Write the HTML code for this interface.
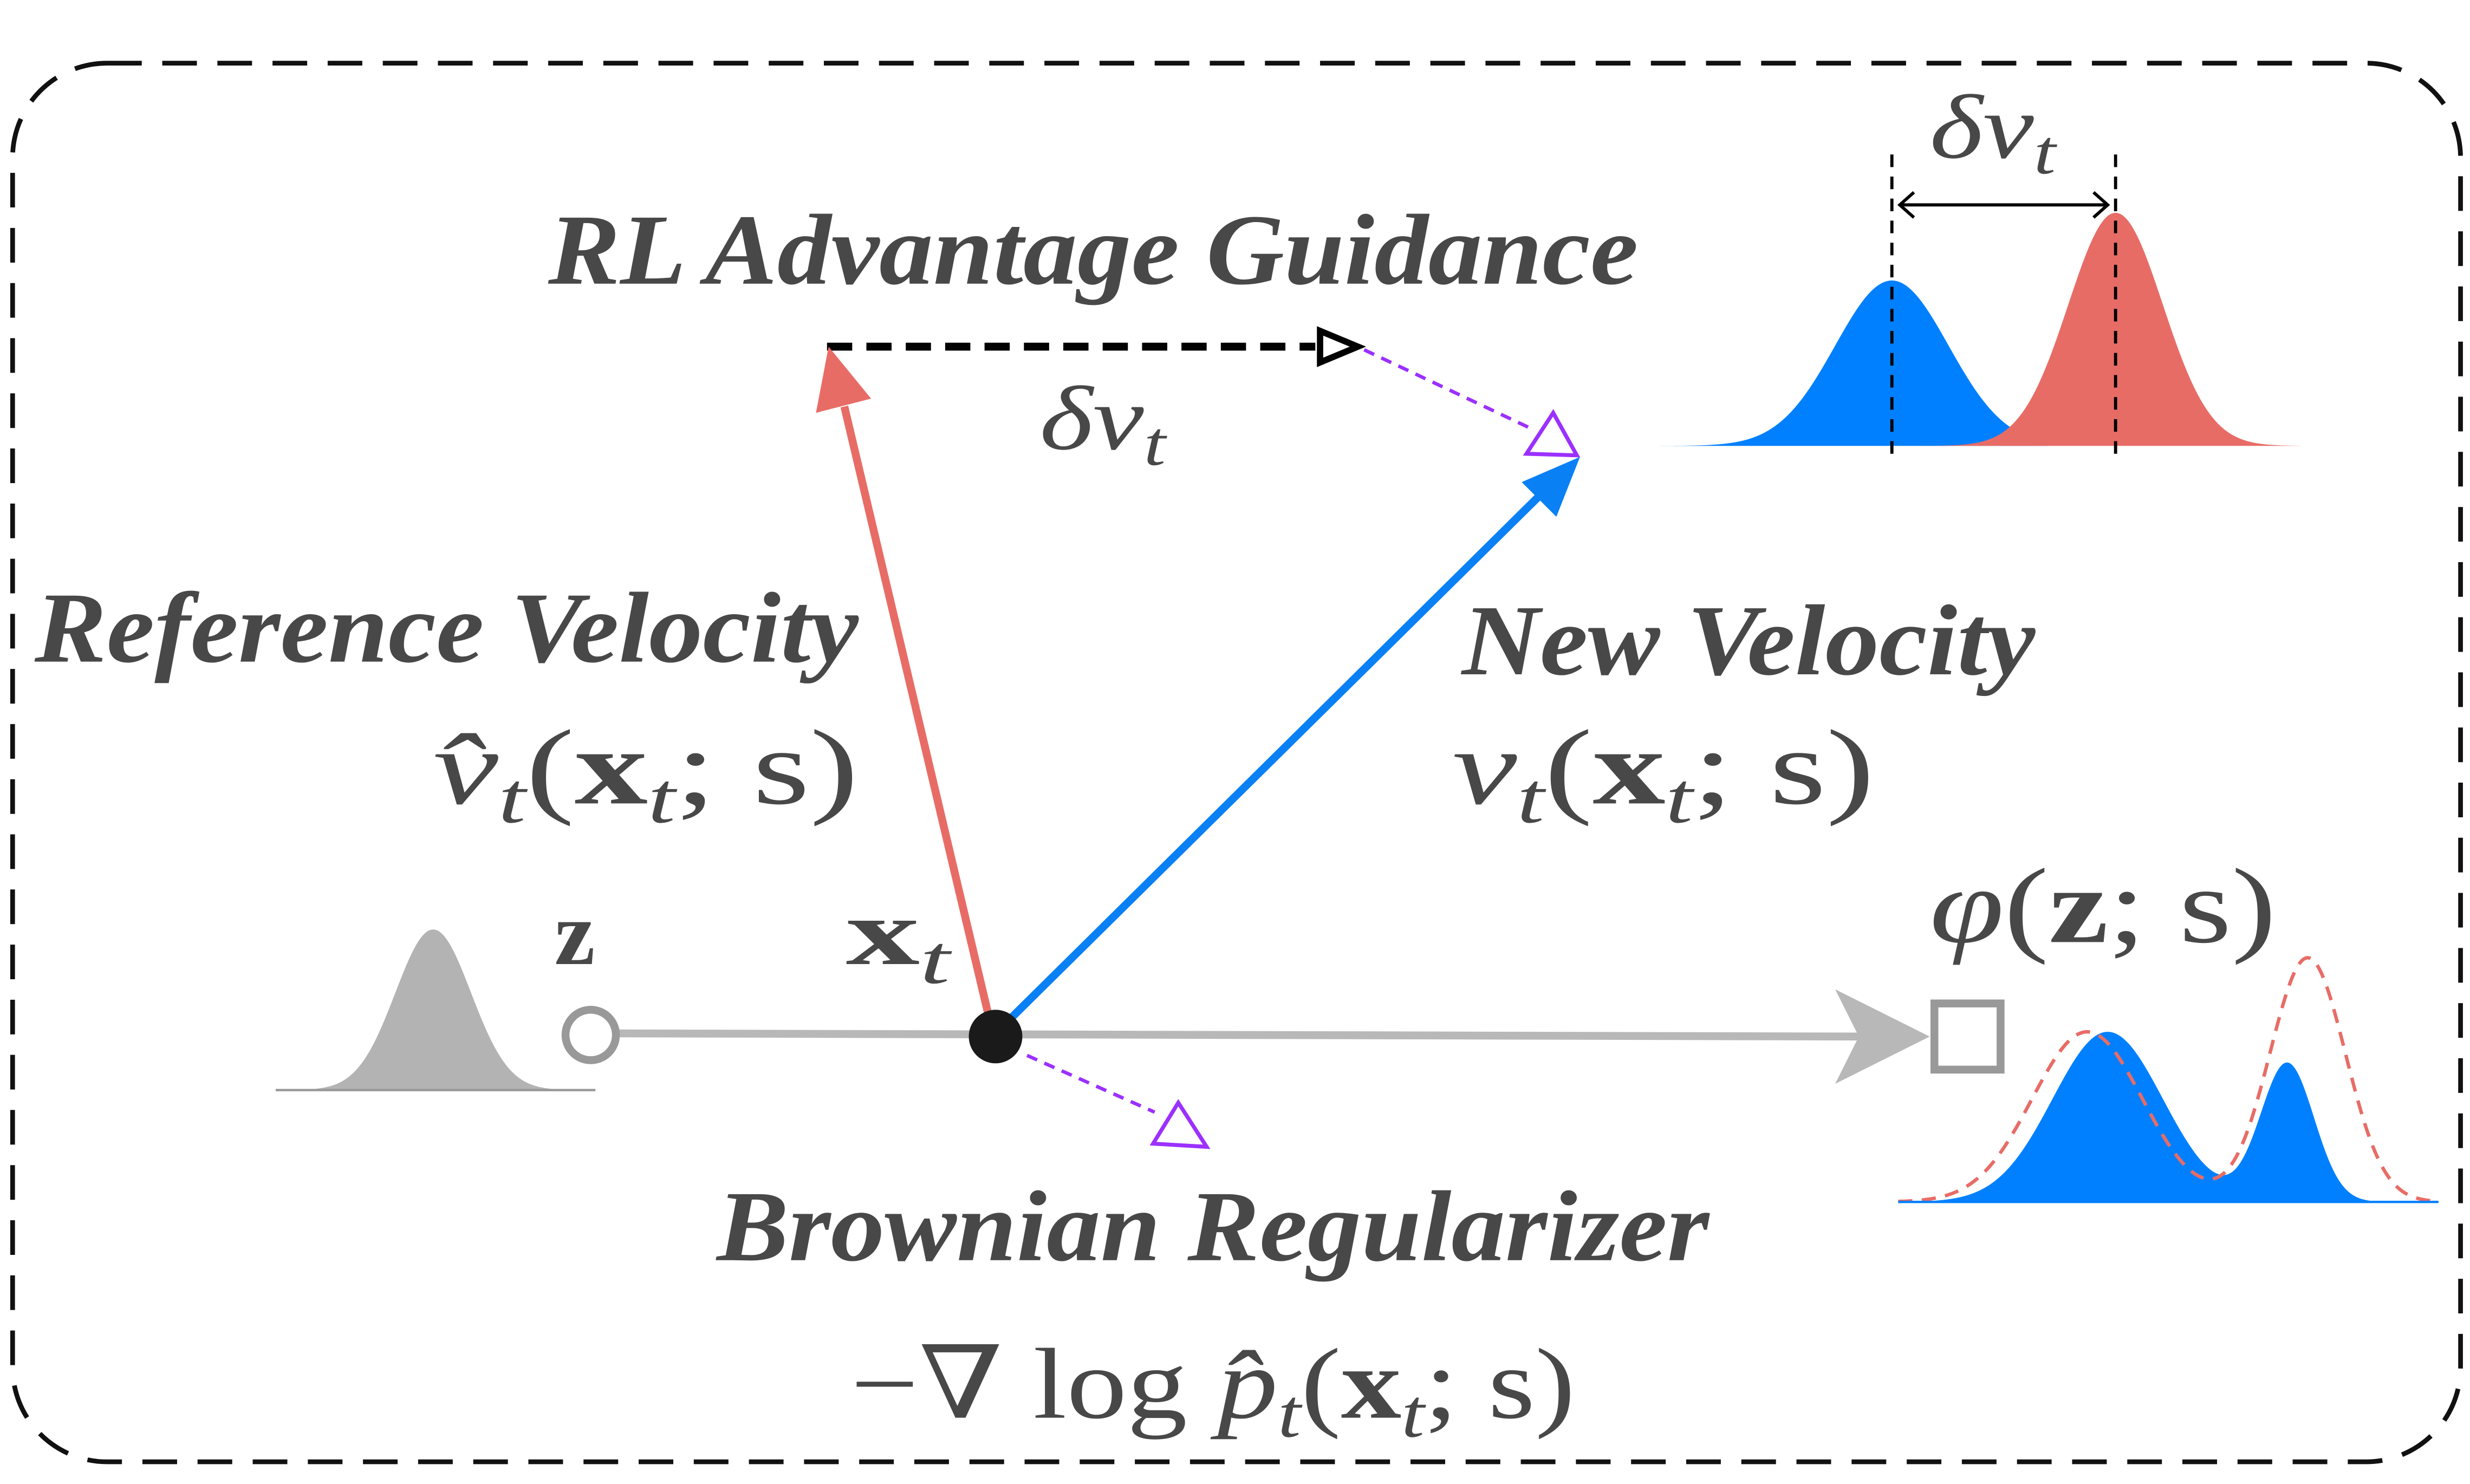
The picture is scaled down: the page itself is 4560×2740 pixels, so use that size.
<!DOCTYPE html>
<html><head><meta charset="utf-8"><style>
html,body{margin:0;padding:0;background:#fff}
svg{display:block}
.t{font-family:"Liberation Serif",serif;font-weight:bold;font-style:italic;fill:#484848}
.m{font-family:"Liberation Serif","DejaVu Serif",serif;fill:#484848}
</style></head><body>
<svg id="s" width="4560" height="2740" viewBox="0 0 1568 942" xmlns="http://www.w3.org/2000/svg">
<rect x="8" y="40" width="1554" height="888" rx="60" fill="none" stroke="#111" stroke-width="3" stroke-dasharray="22,13"/>
<path id="gb" fill="#0080FF"/>
<path id="gr" fill="#E86C66"/>
<line x1="1201" y1="98" x2="1201" y2="292" stroke="#000" stroke-width="2" stroke-dasharray="8,6"/>
<line x1="1343" y1="98" x2="1343" y2="292" stroke="#000" stroke-width="2" stroke-dasharray="8,6"/>
<line x1="1206" y1="130" x2="1338" y2="130" stroke="#000" stroke-width="2"/>
<polyline points="1215,122 1206,130 1215,138" fill="none" stroke="#000" stroke-width="2"/>
<polyline points="1329,122 1338,130 1329,138" fill="none" stroke="#000" stroke-width="2"/>
<text class="m" x="1225" y="100" font-size="58" font-style="italic" textLength="80" lengthAdjust="spacingAndGlyphs">δv<tspan font-size="40" dy="10">t</tspan></text>
<text class="t" x="348" y="180" font-size="64" textLength="692" lengthAdjust="spacingAndGlyphs">RL Advantage Guidance</text>
<line x1="525" y1="220" x2="835" y2="220" stroke="#000" stroke-width="5" stroke-dasharray="16,9"/>
<polygon points="838,210 862,220 838,230" fill="#fff" stroke="#000" stroke-width="4"/>
<line x1="866" y1="222" x2="972" y2="272" stroke="#9B30FF" stroke-width="2.2" stroke-dasharray="7,5"/>
<polygon points="986,262 1001,289 969,288" fill="#fff" stroke="#9B30FF" stroke-width="2.5"/>
<text class="m" x="660" y="285" font-size="58" font-style="italic" textLength="80" lengthAdjust="spacingAndGlyphs">δv<tspan font-size="40" dy="10">t</tspan></text>
<line x1="630" y1="655" x2="536" y2="258" stroke="#E86C66" stroke-width="5"/>
<polygon points="526,220 553,253 518,262" fill="#E86C66"/>
<line x1="633" y1="655" x2="982" y2="310" stroke="#0A80F5" stroke-width="5"/>
<polygon points="1003,290 988,328 966,306" fill="#0A80F5"/>
<text class="t" x="22" y="420" font-size="64" textLength="523" lengthAdjust="spacingAndGlyphs">Reference Velocity</text>
<text class="m" x="275" y="510" font-size="68" textLength="270" lengthAdjust="spacingAndGlyphs"><tspan font-style="italic">v̂</tspan><tspan font-style="italic" font-size="46" dy="12">t</tspan><tspan dy="-12">(</tspan><tspan font-weight="bold">x</tspan><tspan font-style="italic" font-size="46" dy="12">t</tspan><tspan dy="-12">; s)</tspan></text>
<text class="t" x="928" y="428" font-size="64" textLength="364" lengthAdjust="spacingAndGlyphs">New Velocity</text>
<text class="m" x="922" y="510" font-size="68" textLength="268" lengthAdjust="spacingAndGlyphs"><tspan font-style="italic">v</tspan><tspan font-style="italic" font-size="46" dy="12">t</tspan><tspan dy="-12">(</tspan><tspan font-weight="bold">x</tspan><tspan font-style="italic" font-size="46" dy="12">t</tspan><tspan dy="-12">; s)</tspan></text>
<path id="gg" fill="#B3B3B3"/>
<line x1="175" y1="692" x2="378" y2="692" stroke="#999" stroke-width="1.5"/>
<text class="m" x="352" y="612" font-size="58" font-weight="bold">z</text>
<text class="m" x="537" y="612" font-size="60" textLength="66" lengthAdjust="spacingAndGlyphs"><tspan font-weight="bold">x</tspan><tspan font-style="italic" font-size="44" dy="12">t</tspan></text>
<line x1="392" y1="656" x2="1180" y2="658" stroke="#B8B8B8" stroke-width="5"/>
<path d="M1165,628 L1225,658 L1165,688 L1180,658 Z" fill="#B8B8B8"/>
<circle cx="375" cy="657" r="16" fill="#fff" stroke="#999" stroke-width="5"/>
<rect x="1228" y="637" width="42" height="42" fill="#fff" stroke="#999" stroke-width="5"/>
<circle cx="632" cy="658" r="17" fill="#1a1a1a"/>
<line x1="652" y1="670" x2="733" y2="706" stroke="#9B30FF" stroke-width="2.2" stroke-dasharray="7,5"/>
<polygon points="748,700 766,728 732,726" fill="#fff" stroke="#9B30FF" stroke-width="2.5"/>
<text class="t" x="455" y="800" font-size="64" textLength="630" lengthAdjust="spacingAndGlyphs">Brownian Regularizer</text>
<text class="m" x="540" y="900" font-size="64" textLength="460" lengthAdjust="spacingAndGlyphs">−∇ log <tspan font-style="italic">p̂</tspan><tspan font-style="italic" font-size="44" dy="12">t</tspan><tspan dy="-12">(</tspan><tspan font-weight="bold">x</tspan><tspan font-style="italic" font-size="44" dy="12">t</tspan><tspan dy="-12">; s)</tspan></text>
<text class="m" x="1225" y="598" font-size="68" textLength="220" lengthAdjust="spacingAndGlyphs"><tspan font-style="italic">φ</tspan>(<tspan font-weight="bold">z</tspan>; s)</text>
<path id="bb" fill="#0080FF"/>
<path id="br" fill="none" stroke="#E86C66" stroke-width="2.2" stroke-dasharray="9,6"/>
<line x1="1205" y1="763" x2="1548" y2="763" stroke="#0080FF" stroke-width="1.5"/>
</svg>
<script>
function g(x,m,s){return Math.exp(-0.5*((x-m)/s)**2);}
function fill(id,x0,x1,base,f,close){let d='';for(let x=x0;x<=x1;x+=1){d+=(x==x0?'M':'L')+x+','+(base-f(x)).toFixed(2);}if(close)d+='L'+x1+','+base+'L'+x0+','+base+'Z';document.getElementById(id).setAttribute('d',d);}
fill('gb',1035,1300,283,x=>105*g(x,1201,36),true);
fill('gr',1180,1460,283,x=>148*g(x,1343,30),true);
fill('gg',175,378,692,x=>102*g(x,275,24),true);
fill('bb',1205,1548,763,x=>108*g(x,1338,35)+88*g(x,1452,17),true);
fill('br',1205,1548,763,x=>108*g(x,1325,35)+155*g(x,1465,24),false);
</script>
</body></html>
